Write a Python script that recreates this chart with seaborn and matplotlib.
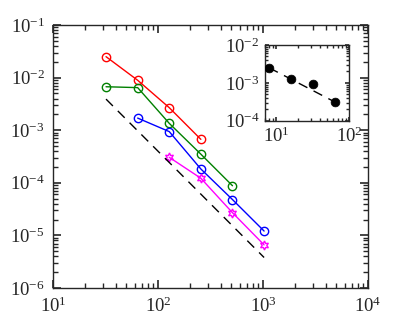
import numpy as np
import pandas as pd
import seaborn as sns
import matplotlib
matplotlib.use('Agg')
import matplotlib.pyplot as plt
from matplotlib.ticker import LogLocator, NullFormatter

# dados
n = [32, 64, 128, 256, 512, 1024]
erro_vermelho = [2.5e-2, 8.9e-3, 2.68e-3, 6.7e-4]
erro_verde = [6.7e-3, 6.45e-3, 1.35e-3, 3.5e-4, 8.8e-5]
erro_azul = [1.7e-3, 9.4e-4, 1.83e-4, 4.8e-5, 1.21e-5]
erro_magenta = [3.05e-4, 1.22e-4, 2.7e-5, 6.6e-6]
ref_x = [32, 1024]
ref_y = [3.9e-3, 3.8e-6]

# inset
n_inset = [8, 16, 32, 64]
erro_inset = [2.5e-3, 1.29e-3, 9.5e-4, 3.1e-4]
ref_inset_x = [8, 64]
ref_inset_y = [2.5e-3, 3.1e-4]

cor_eixo = '#262626'

sns.set_style('ticks')
plt.rcParams.update({
    'font.family': ['Liberation Serif', 'DejaVu Serif'],
    'mathtext.fontset': 'custom',
    'mathtext.rm': 'Liberation Serif',
    'mathtext.it': 'Liberation Serif',
})

fig = plt.figure(figsize=(4.07, 3.26), dpi=100)
ax = fig.add_axes([0.1302, 0.1166, 0.774, 0.8067])

series = [
    (n[0:4], erro_vermelho, '#ff0000', 'o'),
    (n[0:5], erro_verde, '#008000', 'o'),
    (n[1:6], erro_azul, '#0000ff', 'o'),
    (n[2:6], erro_magenta, '#ff00ff', (6, 1, 0)),
]
for xs, ys, cor, mk in series:
    df = pd.DataFrame({'n': xs, 'erro': ys})
    sns.lineplot(data=df, x='n', y='erro', ax=ax, color=cor, marker=mk,
                 markersize=6.5 if mk != 'o' else 6, markerfacecolor='none',
                 markeredgecolor=cor, markeredgewidth=1.0, linewidth=1.0)

ax.plot(ref_x, ref_y, color='black', linestyle=(0, (7, 5)), linewidth=1.0)

ax.set_xscale('log')
ax.set_yscale('log')
ax.set_xlim(10, 1e4)
ax.set_ylim(1e-6, 1e-1)
ax.set_xlabel('')
ax.set_ylabel('')


def ajusta_eixos(a, fs, maior, menor):
    for s in a.spines.values():
        s.set_visible(True)
        s.set_color(cor_eixo)
        s.set_linewidth(1.0)
    for eixo in (a.xaxis, a.yaxis):
        eixo.set_major_locator(LogLocator(base=10))
        eixo.set_minor_locator(LogLocator(base=10, subs=np.arange(2, 10)))
        eixo.set_minor_formatter(NullFormatter())
    a.tick_params(which='both', direction='in', top=True, right=True,
                  bottom=True, left=True, color=cor_eixo, labelsize=fs)
    a.tick_params(which='major', length=maior, width=1.2, pad=6)
    a.tick_params(which='minor', length=menor, width=1.0)


ajusta_eixos(ax, 13.5, 6, 3.5)

# gráfico interno
axi = fig.add_axes([0.651, 0.6298, 0.207, 0.232])
df_in = pd.DataFrame({'n': n_inset, 'erro': erro_inset})
sns.scatterplot(data=df_in, x='n', y='erro', ax=axi, color='black', s=40,
                edgecolor='black', zorder=3)
axi.plot(ref_inset_x, ref_inset_y, color='black', linestyle=(0, (7, 5)), linewidth=1.0)
axi.set_xscale('log')
axi.set_yscale('log')
axi.set_xlim(7, 100)
axi.set_ylim(1e-4, 1e-2)
axi.set_xlabel('')
axi.set_ylabel('')
ajusta_eixos(axi, 13.5, 3, 2)
axi.tick_params(which='major', pad=4)

fig.savefig('out.png', dpi=100)
